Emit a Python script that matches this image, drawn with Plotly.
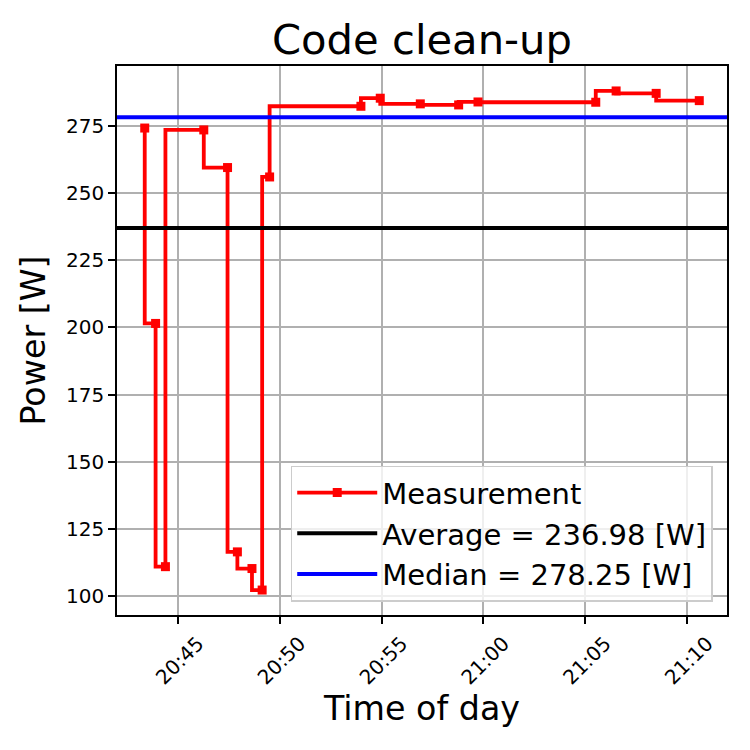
import numpy as np
import pandas as pd
import plotly.graph_objects as go

times = [
    "2024-01-01 20:43:22", "2024-01-01 20:43:54", "2024-01-01 20:44:23",
    "2024-01-01 20:46:16", "2024-01-01 20:47:26", "2024-01-01 20:47:55",
    "2024-01-01 20:48:38", "2024-01-01 20:49:08", "2024-01-01 20:49:30",
    "2024-01-01 20:53:59", "2024-01-01 20:54:56", "2024-01-01 20:56:54",
    "2024-01-01 20:58:47", "2024-01-01 20:59:44", "2024-01-01 21:05:31",
    "2024-01-01 21:06:31", "2024-01-01 21:08:29", "2024-01-01 21:10:36",
]
power = [
    274.2, 201.5, 111.0, 273.5, 259.5, 116.5, 110.3, 102.3, 256.0,
    282.3, 285.3, 283.2, 282.8, 283.9, 283.8, 288.0, 287.1, 284.4,
]

FONT = "DejaVu Sans"

t = pd.to_datetime(times)
avg = np.mean(power)
med = np.median(power)

# matplotlib-like 5% autoscale margins
t_span = t.max() - t.min()
x_range = [t.min() - 0.05 * t_span, t.max() + 0.05 * t_span]
p_span = max(power) - min(power)
y_range = [min(power) - 0.05 * p_span, max(power) + 0.05 * p_span]

fig = go.Figure()
fig.add_trace(go.Scatter(
    x=t, y=power, mode="lines+markers", name="Measurement",
    line=dict(color="#ff0000", width=3.8, shape="vh"),
    marker=dict(symbol="square", size=9, color="#ff0000"),
))
fig.add_hline(y=avg, line=dict(color="black", width=4), layer="above",
              showlegend=True, name=f"Average = {avg:.2f} [W]")
fig.add_hline(y=med, line=dict(color="#0000ff", width=4), layer="above",
              showlegend=True, name=f"Median = {med:.2f} [W]")

axis_style = dict(
    showline=True, mirror=True, linecolor="black", linewidth=1.7,
    ticks="outside", ticklen=7, tickwidth=1.7, tickcolor="black",
    showgrid=True, gridcolor="#b0b0b0", gridwidth=1.7,
    zeroline=False, automargin=False,
    tickfont=dict(family=FONT, size=20, color="black"),
)

# the page adds ~8px body margin, so margins are shifted to compensate
fig.update_layout(
    width=750, height=750,
    margin=dict(l=109, r=31, t=58, b=143, autoexpand=False),
    paper_bgcolor="white", plot_bgcolor="white",
    font=dict(family=FONT, color="black"),
    title=dict(text="Code clean-up", x=0.5, xref="paper", xanchor="center",
               y=1, yref="paper", yanchor="bottom", pad=dict(b=12),
               font=dict(family=FONT, size=41.7, color="black")),
    legend=dict(x=0.9766, y=0.0242, xanchor="right", yanchor="bottom",
                bgcolor="rgba(255,255,255,0.8)", bordercolor="#cccccc",
                borderwidth=1.5, itemwidth=80,
                font=dict(family=FONT, size=29, color="black")),
)
fig.update_xaxes(
    type="date", range=x_range, tick0="2024-01-01 20:45:00", dtick=300000,
    tickformat="%H:%M", tickangle=-45, ticklabelshift=20,
    title=dict(text="Time of day", font=dict(family=FONT, size=33.3), standoff=8),
    **axis_style,
)
fig.update_yaxes(
    range=y_range, tick0=100, dtick=25,
    title=dict(text="Power [W]", font=dict(family=FONT, size=33.3), standoff=10),
    **axis_style,
)

fig.write_html("out.html")
